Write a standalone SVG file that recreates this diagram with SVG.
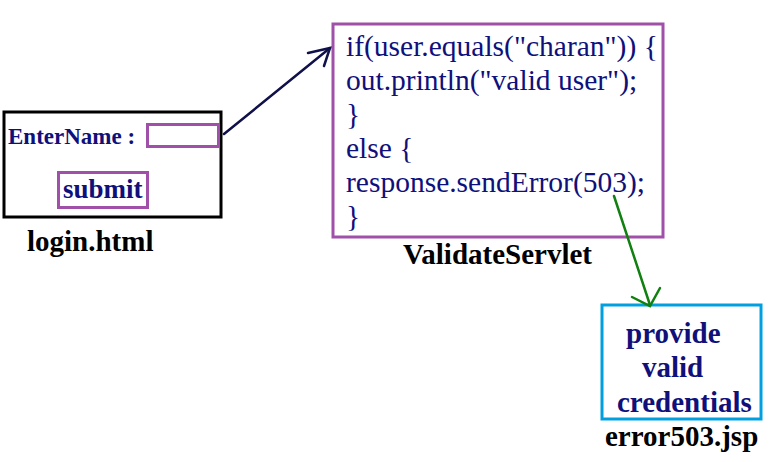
<svg xmlns="http://www.w3.org/2000/svg" width="769" height="462" viewBox="0 0 769 462">
<style>
.nav{fill:#10107a;font-family:"Liberation Serif","Times New Roman",serif}
.b{font-weight:bold}
.cap{fill:#000;font-family:"Liberation Serif","Times New Roman",serif;font-weight:bold;font-size:29px}
.code{font-size:29.5px}
.big{font-size:29px}
</style>
<rect width="769" height="462" fill="#fff"/>
<g id="login">
<rect x="4" y="112" width="217" height="105" fill="none" stroke="#000" stroke-width="3"/>
<rect x="147.5" y="124.5" width="71" height="22" fill="none" stroke="#a050a8" stroke-width="3"/>
<rect x="58.5" y="172.5" width="89" height="35" fill="none" stroke="#a050a8" stroke-width="3"/>
<text class="nav b" x="8" y="144" font-size="23">EnterName :</text>
<text class="nav b" x="63" y="198" font-size="27">submit</text>
<text class="cap" x="27" y="251">login.html</text>
</g>
<g id="servlet">
<rect x="333" y="24" width="330" height="213" fill="none" stroke="#a050a8" stroke-width="3"/>
<text class="nav code" x="346" y="56">if(user.equals("charan")) {</text>
<text class="nav code" x="346" y="90">out.println("valid user");</text>
<text class="nav code" x="346" y="124">}</text>
<text class="nav code" x="346" y="158">else {</text>
<text class="nav code" x="346" y="192">response.sendError(503);</text>
<text class="nav code" x="346" y="226">}</text>
<text class="cap" x="403" y="264">ValidateServlet</text>
</g>
<g id="error">
<rect x="602" y="305" width="159" height="114" fill="none" stroke="#00a0e0" stroke-width="3"/>
<text class="nav b big" x="626" y="343">provide</text>
<text class="nav b big" x="642" y="377">valid</text>
<text class="nav b big" x="617" y="412">credentials</text>
<text class="cap" x="605" y="446">error503.jsp</text>
</g>
<g id="connectors" fill="none" stroke-width="2.5" stroke-linecap="round">
<path d="M224 134 L330 48" stroke="#10104a"/>
<path d="M308 53 L330 48 L324 66" stroke="#10104a"/>
<path d="M614 196 L650 305" stroke="#108010"/>
<path d="M632 297 L650 306 L660 288" stroke="#108010"/>
</g>
</svg>
